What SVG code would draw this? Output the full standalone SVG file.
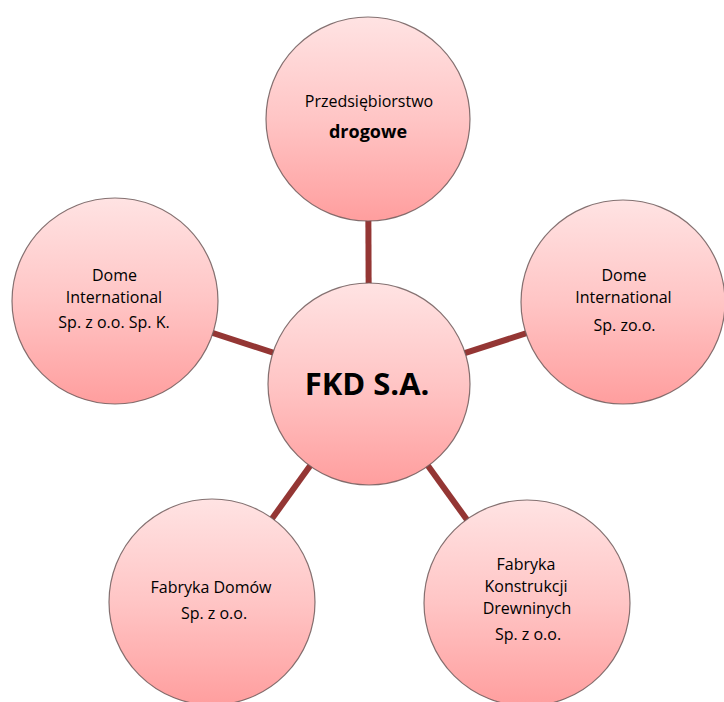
<svg xmlns="http://www.w3.org/2000/svg" width="724" height="702" viewBox="0 0 724 702">
<defs>
<linearGradient id="pink" x1="0" y1="0" x2="0" y2="1">
<stop offset="0" stop-color="#ffe3e3"/>
<stop offset="0.5" stop-color="#ffc5c5"/>
<stop offset="1" stop-color="#ff9e9e"/>
</linearGradient>
</defs>
<style>
.node circle { fill: url(#pink); stroke: #6e5a5a; stroke-width: 1.2; stroke-opacity: 0.85; }
.conn line { stroke: #943634; stroke-width: 6; }
text { font-family: "Open Sans", "Liberation Sans", sans-serif; fill: #000; text-anchor: middle; }
.t { font-size: 16px; }
.tb { font-size: 16px; }
.b { font-weight: bold; font-size: 18px; }
.main { font-weight: bold; font-size: 31px; }
</style>
<rect width="724" height="702" fill="#ffffff"/>
<g id="connectors" class="conn">
<line x1="369" y1="384" x2="368" y2="119"/>
<line x1="369" y1="384" x2="115" y2="301"/>
<line x1="369" y1="384" x2="623" y2="302"/>
<line x1="369" y1="384" x2="212" y2="602"/>
<line x1="369" y1="384" x2="527" y2="603"/>
</g>
<g id="node-top" class="node">
<circle cx="368" cy="119" r="102"/>
<text class="tb" x="369" y="107">Przedsiębiorstwo</text>
<text class="b" x="368" y="138">drogowe</text>
</g>
<g id="node-left" class="node">
<circle cx="115" cy="301" r="103"/>
<text class="t" x="114.5" y="281">Dome</text>
<text class="t" x="114" y="303">International</text>
<text class="t" x="114" y="328">Sp. z o.o. Sp. K.</text>
</g>
<g id="node-right" class="node">
<circle cx="623" cy="302" r="102"/>
<text class="t" x="624" y="281">Dome</text>
<text class="t" x="623.5" y="303">International</text>
<text class="t" x="624.5" y="331">Sp. zo.o.</text>
</g>
<g id="node-lowleft" class="node">
<circle cx="212" cy="602" r="103"/>
<text class="t" x="211" y="593">Fabryka Domów</text>
<text class="t" x="214" y="619">Sp. z o.o.</text>
</g>
<g id="node-lowright" class="node">
<circle cx="527" cy="603" r="103"/>
<text class="t" x="526" y="570">Fabryka</text>
<text class="t" x="526" y="592">Konstrukcji</text>
<text class="t" x="527" y="614">Drewninych</text>
<text class="t" x="528" y="640">Sp. z o.o.</text>
</g>
<g id="node-center" class="node">
<circle cx="369" cy="384" r="101"/>
<text class="main" x="367" y="395">FKD S.A.</text>
</g>
</svg>
